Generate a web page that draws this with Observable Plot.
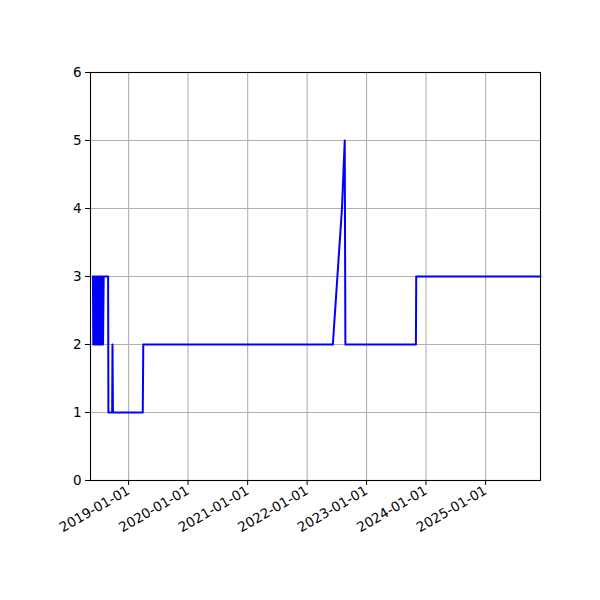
<!DOCTYPE html>
<html>
<head>
<meta charset="utf-8">
<script src="https://cdn.jsdelivr.net/npm/d3@7"></script>
<script src="https://cdn.jsdelivr.net/npm/@observablehq/plot@0.6"></script>
<style>
  html, body { margin: 0; padding: 0; background: #fff; }
</style>
</head>
<body>
<div id="chart"></div>
<script>
const dates = [
  "2018-05-27","2018-05-29","2018-06-03","2018-06-05","2018-06-08","2018-06-10",
  "2018-06-13","2018-06-15","2018-06-18","2018-06-20","2018-06-24","2018-06-26",
  "2018-06-29","2018-07-01","2018-07-04","2018-07-06","2018-07-09","2018-07-11",
  "2018-07-14","2018-07-16","2018-07-20","2018-07-22","2018-07-26","2018-07-28",
  "2018-08-01",
  "2018-08-28","2018-08-30","2018-09-22","2018-09-24","2018-09-27",
  "2019-03-29","2019-04-01",
  "2022-06-08","2022-08-03","2022-08-20","2022-08-24",
  "2023-10-31","2023-11-02",
  "2025-12-04"
];
const values = [
  3,2,3,2,3,2,
  3,2,3,2,3,2,
  3,2,3,2,3,2,
  3,2,3,2,3,2,
  3,
  3,1,1,2,1,
  1,2,
  2,4,5,2,
  2,3,
  3
];
const xTicks = ["2019-01-01","2020-01-01","2021-01-01","2022-01-01","2023-01-01","2024-01-01","2025-01-01"];
const yTicks = [0,1,2,3,4,5,6];
const xDomain = ["2018-05-12","2025-12-04"];

const parse = d3.utcParse("%Y-%m-%d");
const data = dates.map((d, i) => ({date: parse(d), value: values[i]}));
const tickDates = xTicks.map(parse);

const chart = Plot.plot({
  width: 600,
  height: 600,
  marginLeft: 90,
  marginRight: 60,
  marginTop: 72,
  marginBottom: 120,
  style: {fontFamily: "DejaVu Sans", fontSize: "13.5px", color: "#000", background: "#fff"},
  x: {type: "utc", domain: xDomain.map(parse)},
  y: {domain: [0, 6]},
  marks: [
    Plot.gridX(tickDates, {stroke: "#b0b0b0", strokeOpacity: 1, strokeWidth: 1.1}),
    Plot.gridY(yTicks, {stroke: "#b0b0b0", strokeOpacity: 1, strokeWidth: 1.1}),
    Plot.line(data, {x: "date", y: "value", stroke: "#0000ff", strokeWidth: 2}),
    Plot.frame({stroke: "#000", strokeWidth: 1.1}),
    Plot.axisX(tickDates, {tickFormat: d3.utcFormat("%Y-%m-%d"), tickRotate: -30, tickSize: 5, tickPadding: 4, label: null, fontSize: 13.5}),
    Plot.axisY(yTicks, {tickFormat: d => String(d), tickSize: 5, tickPadding: 4, label: null, fontSize: 13.5})
  ]
});
document.getElementById("chart").appendChild(chart);
</script>
</body>
</html>
